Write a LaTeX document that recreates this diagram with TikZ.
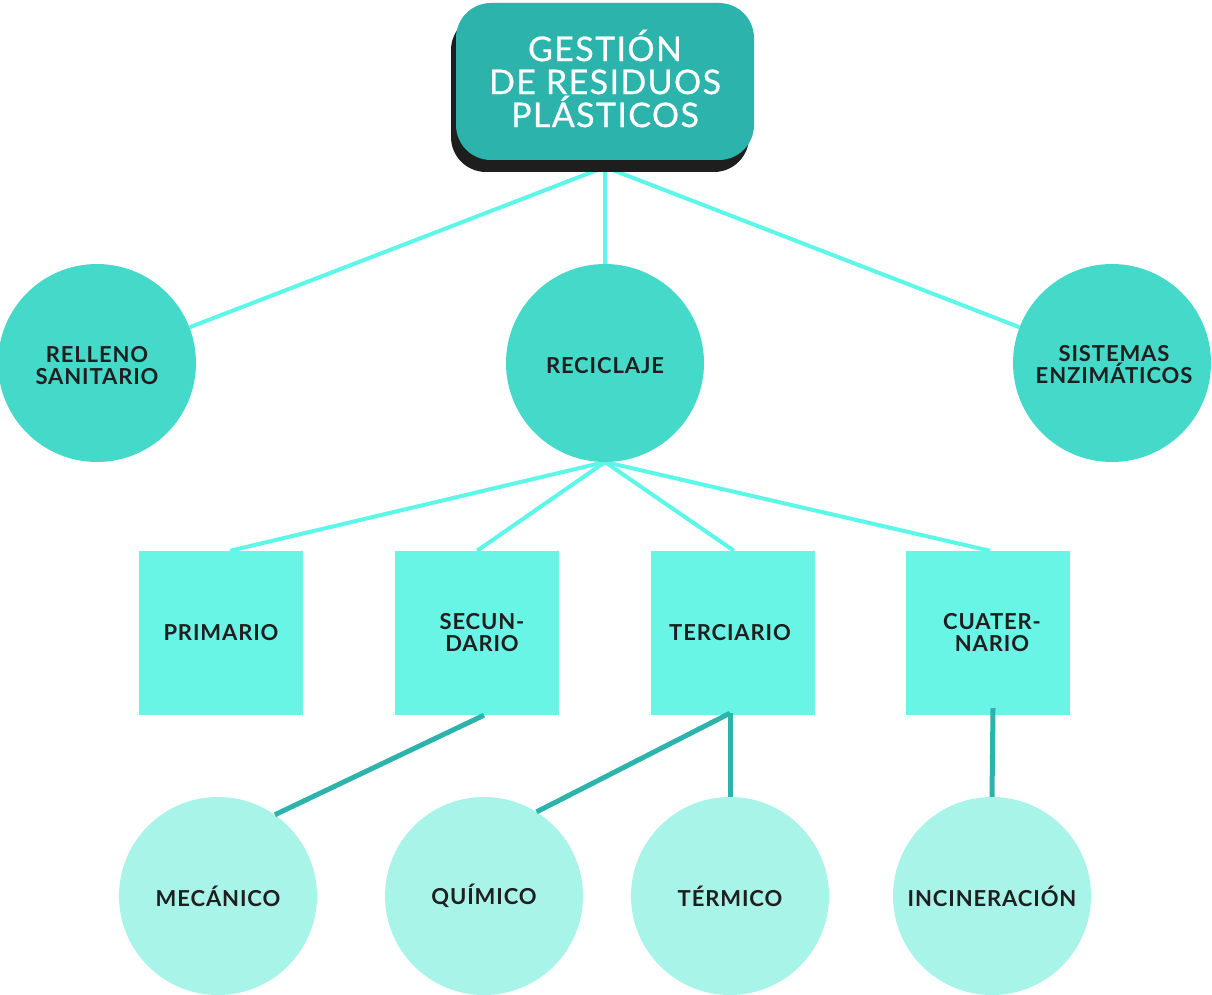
\documentclass[tikz,border=0pt]{standalone}
\usepackage{fontspec}
\setmainfont{Lato}
\newfontfamily\lblfont[LetterSpace=4]{Lato}
\newfontfamily\ttlfont[LetterSpace=4,FakeBold=0.6]{Lato}
\usetikzlibrary{shadows,backgrounds}
\definecolor{cTitle}{HTML}{2BB3AC}
\definecolor{cShadow}{HTML}{1E1E1E}
\definecolor{cTwo}{HTML}{45D9C9}
\definecolor{cSq}{HTML}{69F5E5}
\definecolor{cThree}{HTML}{A8F4E9}
\definecolor{cLight}{HTML}{5CF7E9}
\definecolor{cDark}{HTML}{2BB3AC}
\definecolor{ink}{HTML}{1F1F1F}
\begin{document}
\begin{tikzpicture}[x=1pt,y=-1pt,
  lbl/.style={font=\lblfont\fontsize{22}{22}\selectfont\bfseries, text=ink, align=center},
  ttl/.style={text=white, align=center, font=\ttlfont\fontsize{34}{33}\selectfont},
  titlebox/.style={rectangle, rounded corners=35pt, fill=cTitle, minimum width=298pt, minimum height=157pt, inner sep=0pt,
    drop shadow={shadow xshift=-5pt, shadow yshift=-12pt, fill=cShadow, opacity=1}},
  circtwo/.style={circle, fill=cTwo, minimum size=198pt, inner sep=0pt, lbl},
  sqbox/.style={rectangle, fill=cSq, minimum size=164pt, inner sep=0pt, lbl},
  circthree/.style={circle, fill=cThree, minimum size=198pt, inner sep=0pt, lbl},
  lightline/.style={draw=cLight, line width=4pt},
  darkline/.style={draw=cDark, line width=5pt}]
\useasboundingbox (0,0) rectangle (1212,995);

\node[titlebox, label={[ttl,yshift=3pt]center:GESTIÓN\\DE RESIDUOS\\PLÁSTICOS}] (title) at (605,81.5) {};

\node[circtwo, label={[lbl,yshift=-3pt]center:RELLENO\\SANITARIO}] (relleno) at (97,363) {};
\node[circtwo, label={[lbl,yshift=-3pt]center:RECICLAJE}] (reciclaje) at (605,363) {};
\node[circtwo, label={[lbl,xshift=2pt,yshift=-2pt]center:SISTEMAS\\ENZIMÁTICOS}] (sistemas) at (1112,363) {};

\node[sqbox] (primario) at (221,633) {PRIMARIO};
\node[sqbox, label={[lbl,xshift=5pt]center:SECUN-\\DARIO}] (secundario) at (477,633) {};
\node[sqbox] (terciario) at (733,633) {\hspace*{-6pt}TERCIARIO};
\node[sqbox, label={[lbl,xshift=4pt]center:CUATER-\\NARIO}] (cuaternario) at (988,633) {};

\node[circthree] (mecanico) at (218,896) {MECÁNICO};
\node[circthree] (quimico) at (484,896) {QUÍMICO};
\node[circthree] (termico) at (730,896) {TÉRMICO};
\node[circthree] (incineracion) at (992,896) {INCINERACIÓN};

\coordinate (hub) at (605,167);
\coordinate (hubtwo) at (605,462);

\begin{scope}[on background layer]
\draw[lightline] (relleno) -- (hub) -- (sistemas);
\draw[lightline] (hub) -- (reciclaje.north);
\draw[lightline] ([xshift=9pt]primario.north) -- (hubtwo) -- ([xshift=2pt]cuaternario.north);
\draw[lightline] (secundario.north) -- (hubtwo) -- ([xshift=1pt]terciario.north);
\end{scope}
\draw[darkline] ([xshift=7pt]secundario.south) -- (mecanico.55);
\coordinate (tsouth) at ([xshift=-3pt,yshift=2pt]terciario.south);
\draw[darkline] (tsouth) -- (quimico.58);
\draw[darkline] (tsouth) -- (termico.north);
\draw[darkline] ([xshift=5pt,yshift=7pt]cuaternario.south) -- (incineracion.north);
\end{tikzpicture}
\end{document}
